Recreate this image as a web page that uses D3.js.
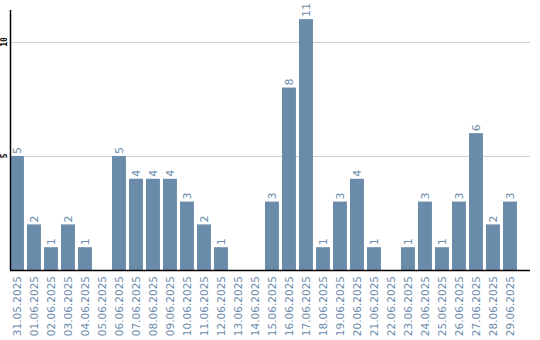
<!DOCTYPE html>
<html>
<head>
<meta charset="utf-8">
<script src="https://cdn.jsdelivr.net/npm/d3@7"></script>
<style>
  body { margin: 0; background: #fff; }
  svg { display: block; }
</style>
</head>
<body>
<svg width="540" height="340"></svg>
<script>
const dates = ["31.05.2025", "01.06.2025", "02.06.2025", "03.06.2025", "04.06.2025",
    "05.06.2025", "06.06.2025", "07.06.2025", "08.06.2025", "09.06.2025",
    "10.06.2025", "11.06.2025", "12.06.2025", "13.06.2025", "14.06.2025",
    "15.06.2025", "16.06.2025", "17.06.2025", "18.06.2025", "19.06.2025",
    "20.06.2025", "21.06.2025", "22.06.2025", "23.06.2025", "24.06.2025",
    "25.06.2025", "26.06.2025", "27.06.2025", "28.06.2025", "29.06.2025"];
const counts = [5, 2, 1, 2, 1, 0, 5, 4, 4, 4, 3, 2, 1, 0, 0, 3, 8, 11, 1, 3, 4, 1, 0, 1, 3, 1, 3, 6, 2, 3];
const yTicks = [5, 10];

const svg = d3.select("svg");
const blue = "#6b8bab";
const plotLeft = 10, plotRight = 530, plotBottom = 270, plotTop = 10;

const x = d3.scaleBand()
    .domain(dates)
    .range([plotLeft, 520])
    .paddingInner(0.18)
    .paddingOuter(0.09)
    .align(0);

const y = d3.scaleLinear()
    .domain([0, 11.4])
    .range([plotBottom, plotTop]);

const rows = counts.map((v, i) => ({ date: dates[i], value: v })).filter(d => d.value > 0);

// grid lines
svg.selectAll(".grid")
    .data(yTicks)
    .enter().append("line")
    .attr("x1", plotLeft).attr("x2", plotRight)
    .attr("y1", d => y(d) + 0.5).attr("y2", d => y(d) + 0.5)
    .attr("stroke", "#cccccc")
    .attr("stroke-width", 1);

// y tick labels
svg.selectAll(".ytick")
    .data(yTicks)
    .enter().append("text")
    .attr("transform", d => "translate(7," + y(d) + ") rotate(-90)")
    .attr("text-anchor", "middle")
    .style("font-family", "'DejaVu Sans Mono', monospace")
    .style("font-weight", "bold")
    .style("font-size", "8px")
    .attr("fill", "#000")
    .text(d => d);

// bars
svg.selectAll(".bar")
    .data(rows)
    .enter().append("rect")
    .attr("x", d => x(d.date))
    .attr("y", d => y(d.value))
    .attr("width", x.bandwidth())
    .attr("height", d => plotBottom - y(d.value))
    .attr("fill", blue);

// value labels
svg.selectAll(".val")
    .data(rows)
    .enter().append("text")
    .attr("transform", d => "translate(" + (x(d.date) + x.bandwidth() / 2) + "," + (y(d.value) - 2) + ") rotate(-90)")
    .attr("dy", "0.35em")
    .attr("text-anchor", "start")
    .style("font-family", "'DejaVu Sans', sans-serif")
    .style("font-size", "11px")
    .attr("fill", blue)
    .text(d => d.value);

// x labels
svg.selectAll(".xlab")
    .data(dates)
    .enter().append("text")
    .attr("transform", d => "translate(" + (x(d) + x.bandwidth() / 2) + "," + (plotBottom + 6) + ") rotate(-90)")
    .attr("dy", "0.35em")
    .attr("text-anchor", "end")
    .style("font-family", "'DejaVu Sans', sans-serif")
    .style("font-size", "10.5px")
    .attr("fill", blue)
    .text(d => d);

// axes lines
svg.append("line")
    .attr("x1", plotLeft + 0.5).attr("x2", plotLeft + 0.5)
    .attr("y1", plotTop).attr("y2", plotBottom)
    .attr("stroke", "#000").attr("stroke-width", 1.5);
svg.append("line")
    .attr("x1", plotLeft).attr("x2", plotRight)
    .attr("y1", plotBottom + 0.5).attr("y2", plotBottom + 0.5)
    .attr("stroke", "#000").attr("stroke-width", 1.5);
</script>
</body>
</html>
